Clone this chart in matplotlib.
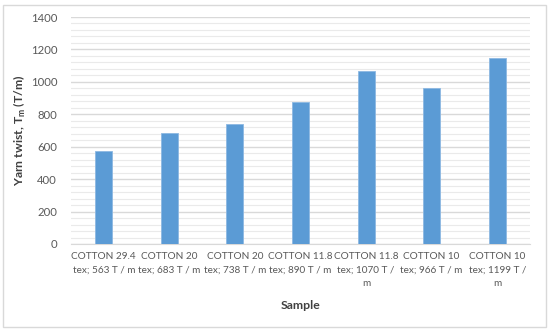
import numpy as np
import matplotlib.pyplot as plt
from matplotlib.patches import Rectangle

samples = ['COTTON 29.4\ntex; 563 T / m', 'COTTON 20\ntex; 683 T / m',
           'COTTON 20\ntex; 738 T / m', 'COTTON 11.8\ntex; 890 T / m',
           'COTTON 11.8\ntex; 1070 T /\nm', 'COTTON 10\ntex; 966 T / m',
           'COTTON 10\ntex; 1199 T /\nm']
twist = [575, 686, 742, 878, 1067, 960, 1149]

plt.rcParams['font.family'] = ['Lato', 'DejaVu Sans']
txt = '#595959'

fig = plt.figure(figsize=(5.5, 3.34), dpi=100)
ax = fig.add_axes([71/550, 1 - 244/334, 459/550, 227/334])

x = np.arange(len(twist))
ax.bar(x, twist, width=0.26, color='#5B9BD5', edgecolor='#8DB8E2', linewidth=0.6, zorder=3)

ax.set_xlim(-0.5, len(twist) - 0.5)
ax.set_ylim(0, 1400)
ax.set_yticks(np.arange(0, 1401, 200))
ax.set_yticks(np.arange(0, 1401, 40), minor=True)
ax.grid(axis='y', which='major', color='#D9D9D9', linewidth=1.0, zorder=0)
ax.grid(axis='y', which='minor', color='#EAEAEA', linewidth=0.8, zorder=0)
ax.tick_params(axis='y', which='both', length=0, labelsize=8.2, labelcolor=txt, pad=10)
ax.tick_params(axis='x', length=0, labelsize=7.2, labelcolor=txt, pad=6)
ax.set_xticks(x)
ax.set_xticklabels(samples, linespacing=1.6)
for s in ['top', 'right', 'left']:
    ax.spines[s].set_visible(False)
ax.spines['bottom'].set_color('#D9D9D9')

ax.set_ylabel('Yarn twist, T$_\\mathregular{m}$ (T/m)', fontsize=8.8, fontweight='bold', color='#404040', labelpad=2)
ax.set_xlabel('Sample', fontsize=8.8, fontweight='bold', color='#404040', labelpad=9)

fig.patches.append(Rectangle((3/550, 7/334), 543/550, 322/334, transform=fig.transFigure,
                             fill=False, edgecolor='#D9D9D9', linewidth=1))

fig.savefig('out.png', dpi=100)
